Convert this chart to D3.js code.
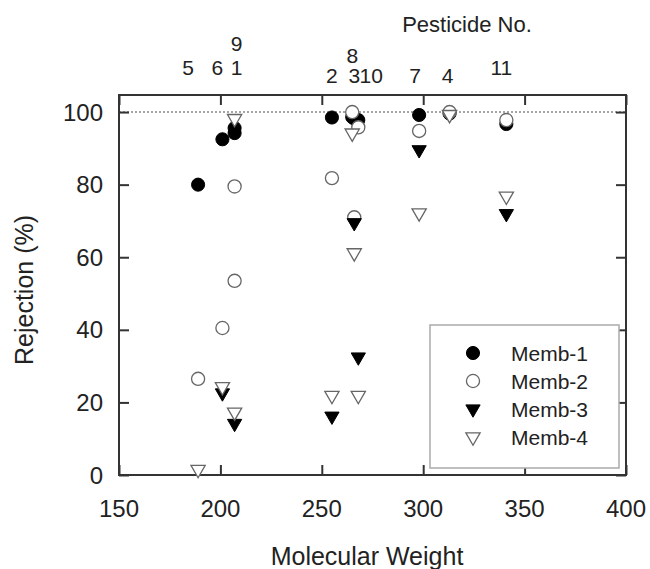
<!DOCTYPE html>
<html>
<head>
<meta charset="utf-8">
<script src="https://cdn.jsdelivr.net/npm/d3@7"></script>
<style>
  html, body { margin: 0; padding: 0; background: #fff; }
  svg { display: block; font-family: "Liberation Sans", Arial, sans-serif; }
</style>
</head>
<body>
<svg id="chart" width="650" height="569"></svg>
<script>
// Pesticides in label order with their molecular weights
const pesticideNo = ["5", "6", "1", "9", "2", "8", "3", "10", "7", "4", "11"];
const molWeight   = [189, 201, 207, 207, 255, 265, 266, 268, 298, 313, 341];

// Rejection (%) per membrane, aligned with pesticideNo (null = not shown)
const memb1 = [80, 92.5, 94.2, 95.6, 98.5, 98.6, 98.2, 97.8, 99.2, 99.6, 96.7];
const memb2 = [26.5, 40.5, 53.5, 79.5, 81.8, 100, 71, 95.8, 94.8, 100, 97.8];
const memb3 = [null, 22.6, 14.2, null, 16.2, null, 69.5, 32.5, 89.6, null, 72];
const memb4 = [1.5, 24.3, 17.3, 98.2, 21.9, 94.2, 61.2, 21.9, 72.2, 99.3, 76.8];

const seriesNames = ["Memb-1", "Memb-2", "Memb-3", "Memb-4"];
const seriesValues = [memb1, memb2, memb3, memb4];

const xTicks = [150, 200, 250, 300, 350, 400];
const yTicks = [0, 20, 40, 60, 80, 100];

// Label stacking for the pesticide numbers above the frame
const labelLayout = {
  "5":  { dx: -10, row: 0 }, "6": { dx: -5, row: 0 }, "1": { dx: 2, row: 0 },
  "9":  { dx: 2, row: 1 },   "2": { dx: 0, row: -0.35 }, "8": { dx: 0, row: 0.5 },
  "3":  { dx: 0, row: -0.35 }, "10": { dx: 13, row: -0.35 }, "7": { dx: -4, row: -0.35 },
  "4":  { dx: -2, row: -0.35 }, "11": { dx: -5, row: 0 }
};

const svg = d3.select("#chart");
const L = 119, R = 626, T = 95, B = 475;
const x = d3.scaleLinear().domain([150, 400]).range([L, R]);
const y = d3.scaleLinear().domain([0, 104.7]).range([B, T]);
const ink = "#222";
const frame = "#333";

// Reference line at 100 %
svg.append("line")
  .attr("x1", L).attr("x2", R).attr("y1", y(100)).attr("y2", y(100))
  .attr("stroke", "#888").attr("stroke-width", 1.4).attr("stroke-dasharray", "2,2");

// Inward ticks on all four sides
const tickLen = 10;
const axBottom = d3.axisBottom(x).tickValues(xTicks).tickSize(-tickLen).tickFormat("");
const axTop = d3.axisTop(x).tickValues(xTicks).tickSize(-tickLen).tickFormat("");
const axLeft = d3.axisLeft(y).tickValues(yTicks).tickSize(-tickLen).tickFormat("");
const axRight = d3.axisRight(y).tickValues(yTicks).tickSize(-tickLen).tickFormat("");
[[axBottom, `translate(0,${B})`], [axTop, `translate(0,${T})`],
 [axLeft, `translate(${L},0)`], [axRight, `translate(${R},0)`]].forEach(([ax, tr]) => {
  const g = svg.append("g").attr("transform", tr).call(ax);
  g.select(".domain").remove();
  g.selectAll(".tick line").attr("stroke", frame).attr("stroke-width", 2);
});

// Frame
svg.append("rect")
  .attr("x", L).attr("y", T).attr("width", R - L).attr("height", B - T)
  .attr("fill", "none").attr("stroke", frame).attr("stroke-width", 2);

// Tick labels
svg.append("g").selectAll("text").data(xTicks).join("text")
  .attr("x", d => x(d)).attr("y", 517)
  .attr("text-anchor", "middle").attr("font-size", 24).attr("fill", ink)
  .text(d => d);
svg.append("g").selectAll("text").data(yTicks).join("text")
  .attr("x", 103).attr("y", d => y(d)).attr("dy", "0.36em")
  .attr("text-anchor", "end").attr("font-size", 24).attr("fill", ink)
  .text(d => d);

// Axis titles
svg.append("text")
  .attr("x", 367).attr("y", 565).attr("text-anchor", "middle")
  .attr("font-size", 25).attr("fill", ink).text("Molecular Weight");
svg.append("text")
  .attr("transform", "translate(33,290) rotate(-90)")
  .attr("text-anchor", "middle").attr("font-size", 25).attr("fill", ink)
  .text("Rejection (%)");

// Pesticide numbers along the top
svg.append("text")
  .attr("x", 467).attr("y", 32).attr("text-anchor", "middle")
  .attr("font-size", 22).attr("fill", ink).text("Pesticide No.");
svg.append("g").selectAll("text").data(pesticideNo).join("text")
  .attr("x", (d, i) => x(molWeight[i]) + labelLayout[d].dx)
  .attr("y", d => 75 - labelLayout[d].row * 24)
  .attr("text-anchor", "middle").attr("font-size", 21).attr("fill", ink)
  .text(d => d);

// Marker styles
const circle = d3.symbol().type(d3.symbolCircle).size(135);
const tri = d3.symbol().type(d3.symbolTriangle).size(88);
const styles = [
  { path: circle(), rot: 0,   fill: "#000", stroke: "#000", sw: 1 },
  { path: circle(), rot: 0,   fill: "#fff", stroke: "#666", sw: 1.3 },
  { path: tri(),    rot: 180, fill: "#000", stroke: "#000", sw: 1 },
  { path: tri(),    rot: 180, fill: "#fff", stroke: "#666", sw: 1.3 }
];

seriesValues.forEach((vals, s) => {
  const pts = vals.map((v, i) => ({ mw: molWeight[i], v })).filter(p => p.v !== null);
  svg.append("g").selectAll("path").data(pts).join("path")
    .attr("d", styles[s].path)
    .attr("transform", p => `translate(${x(p.mw)},${y(p.v)}) rotate(${styles[s].rot})`)
    .attr("fill", styles[s].fill).attr("stroke", styles[s].stroke)
    .attr("stroke-width", styles[s].sw);
});

// Legend
const lg = svg.append("g");
lg.append("rect")
  .attr("x", 430).attr("y", 325).attr("width", 189).attr("height", 143)
  .attr("fill", "#fff").attr("stroke", "#aaa").attr("stroke-width", 1.5);
seriesNames.forEach((name, s) => {
  const cy = 353 + s * 28;
  lg.append("path").attr("d", styles[s].path)
    .attr("transform", `translate(473,${cy}) rotate(${styles[s].rot})`)
    .attr("fill", styles[s].fill).attr("stroke", styles[s].stroke)
    .attr("stroke-width", styles[s].sw);
  lg.append("text").attr("x", 511).attr("y", cy).attr("dy", "0.36em")
    .attr("font-size", 21).attr("fill", ink).text(name);
});
</script>
</body>
</html>
